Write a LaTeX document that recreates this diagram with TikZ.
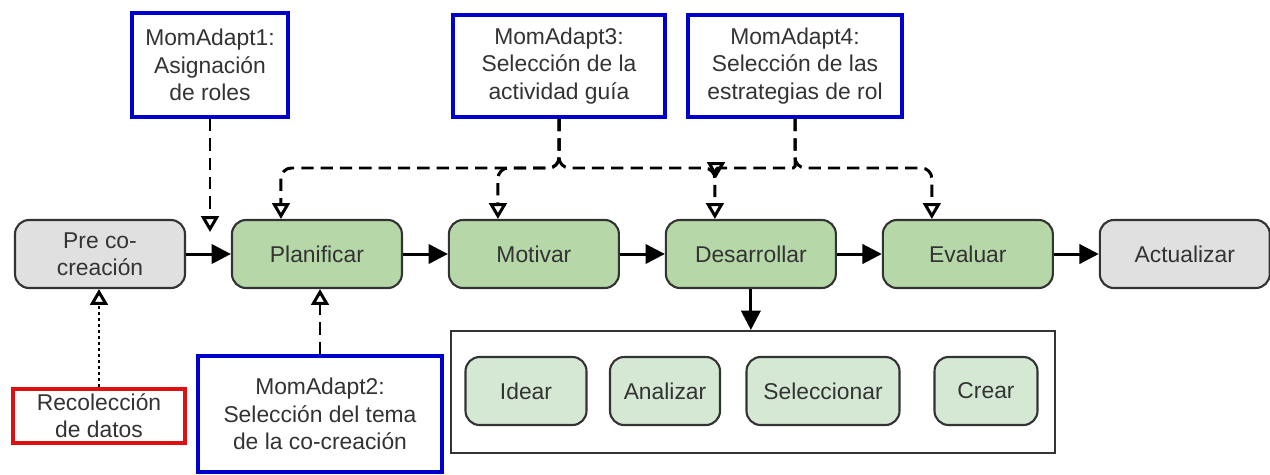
\documentclass[tikz,border=0pt]{standalone}
\usepackage{fontspec}
\setmainfont{Liberation Sans}
\usetikzlibrary{arrows.meta,positioning}
\definecolor{phasegreen}{HTML}{B6D7A8}
\definecolor{taskgreen}{HTML}{D5E8D4}
\definecolor{phasegrey}{HTML}{E0E0E0}
\definecolor{boxline}{HTML}{333333}
\definecolor{momblue}{HTML}{0000CC}
\definecolor{datared}{HTML}{E01010}

\begin{document}
\begin{tikzpicture}[x=0.02cm,y=-0.02cm,node distance=4.34cm,
    >={Triangle[length=11pt,width=11pt]},
    font=\fontsize{13}{15.5}\selectfont,text=black!80]
  \tikzstyle{phase}=[rectangle,rounded corners=8pt,draw=boxline,line width=1.2pt,
                     fill=phasegreen,minimum width=3.4cm,minimum height=1.36cm,align=center]
  \tikzstyle{grey phase}=[phase,fill=phasegrey]
  \tikzstyle{task}=[phase,fill=taskgreen,minimum width=2cm]
  \tikzstyle{moment}=[rectangle,draw=momblue,line width=2.2pt,fill=white,align=center,inner sep=1pt]
  \tikzstyle{incoming}=[<-,line width=1.7pt]
  \tikzstyle{flow}=[->,line width=1.7pt]
  \tikzstyle{adapt}=[-{Triangle[open,length=9pt,width=10pt]},line width=1.7pt,
                     dash pattern=on 7pt off 4pt,rounded corners=6pt]
  \useasboundingbox (0,0) rectangle (1270,474);

  % main phases
  \node [grey phase] (pre) at (100,254) {Pre co-\\creación};
  \node [phase] (plan) [right of=pre] {Planificar}
    edge [incoming] (pre);
  \node [phase] (mot) [right of=plan] {Motivar}
    edge [incoming] (plan);
  \node [phase] (des) [right of=mot] {Desarrollar}
    edge [incoming] (mot);
  \node [phase] (eval) [right of=des] {Evaluar}
    edge [incoming] (des);
  \node [grey phase] (act) [right of=eval] {Actualizar}
    edge [incoming] (eval);

  % co-creation tasks
  \node [draw=boxline,line width=1.2pt,minimum width=12.08cm,minimum height=2.44cm] (tasks) at (753,392) {};
  \node [task,minimum width=2.42cm] (idear) at (526,391) {Idear};
  \node [task,minimum width=2.2cm] (anal) at (665,391) {Analizar};
  \node [task,minimum width=3.06cm] (sel) at (823,391) {Seleccionar};
  \node [task,minimum width=2.06cm] (crear) at (986,391) {Crear};
  \draw [flow] (des.south) -- (des.south |- tasks.north);

  % adaptation moments
  \node [moment,minimum width=3.12cm,minimum height=2.08cm] (m1) at (210,65) {MomAdapt1:\\Asignación\\de roles};
  \node [moment,minimum width=4.88cm,minimum height=2.32cm] (m2) at (320,414) {MomAdapt2:\\Selección del tema\\de la co-creación};
  \node [moment,minimum width=4.24cm,minimum height=2.04cm] (m3) at (559,66) {MomAdapt3:\\Selección de la\\actividad guía};
  \node [moment,minimum width=4.28cm,minimum height=2.04cm] (m4) at (795,66) {MomAdapt4:\\Selección de las\\estrategias de rol};
  \node [moment,draw=datared,minimum width=3.44cm,minimum height=1.08cm] (rec) at (99,416) {Recolección\\de datos};

  \coordinate (bus) at (0,168);
  \coordinate (m1end) at (210,232);
  \coordinate (m4end) at (716,178);

  \draw [adapt] (m1.south) -- (m1end);
  \draw [adapt] (m2.north) -- (m2.north |- plan.south);
  \draw [adapt,dash pattern=on 1.7pt off 1.7pt] (rec.north) -- (rec.north |- pre.south);
  \draw [adapt] (m3.south) -- (m3.south |- bus) -| ([xshift=-0.72cm]plan.north);
  \draw [adapt] (m3.south) -- (m3.south |- bus) -| ([xshift=-0.72cm]mot.north);
  \draw [adapt] (m3.south) -- (m3.south |- bus) -| ([xshift=-0.72cm]des.north);
  \draw [adapt,rounded corners=1pt] (m4.south) -- (m4.south |- bus) -| (m4end);
  \draw [adapt] (m4.south) -- (m4.south |- bus) -| ([xshift=-0.72cm]eval.north);
\end{tikzpicture}
\end{document}
